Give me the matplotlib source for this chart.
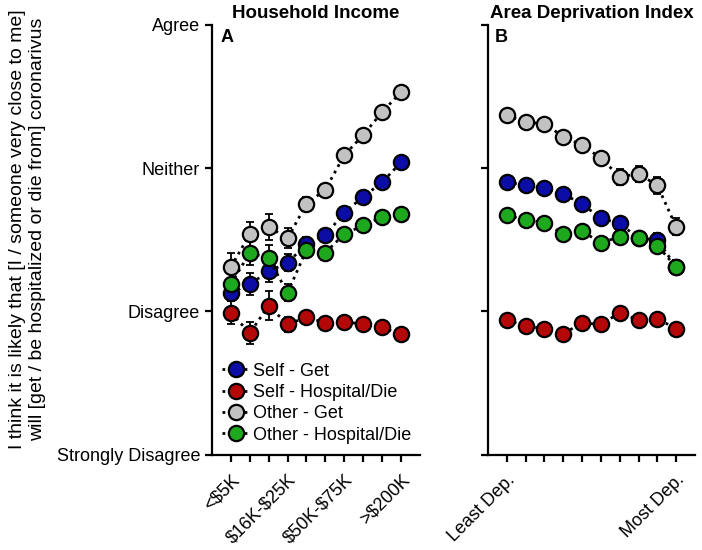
import matplotlib
matplotlib.use("Agg")
import matplotlib.pyplot as plt
from matplotlib.lines import Line2D

plt.rcParams["font.family"] = ["Liberation Sans", "DejaVu Sans"]
plt.rcParams["font.size"] = 13
plt.rcParams["text.parse_math"] = False

# Panel A: household income
income_cats = ["<$5K", "$5K-$10K", "$10K-$15K", "$16K-$25K", "$25K-$35K",
               "$35K-$50K", "$50K-$75K", "$75K-$100K", "$100K-$200K", ">$200K"]
income_shown = ["<$5K", "", "", "$16K-$25K", "", "", "$50K-$75K", "", "", ">$200K"]

inc_self_get = [2.13, 2.19, 2.28, 2.34, 2.47, 2.53, 2.69, 2.80, 2.90, 3.04]
inc_self_hosp = [1.99, 1.85, 2.04, 1.91, 1.96, 1.92, 1.93, 1.91, 1.89, 1.84]
inc_other_get = [2.31, 2.54, 2.59, 2.51, 2.75, 2.85, 3.09, 3.23, 3.39, 3.53]
inc_other_hosp = [2.19, 2.41, 2.37, 2.13, 2.43, 2.41, 2.54, 2.60, 2.66, 2.68]

inc_self_get_err = [0.06, 0.075, 0.075, 0.06, 0.05, 0.04, 0.04, 0.04, 0.04, 0.04]
inc_self_hosp_err = [0.08, 0.075, 0.1, 0.05, 0.04, 0.04, 0.04, 0.04, 0.04, 0.04]
inc_other_get_err = [0.1, 0.087, 0.09, 0.07, 0.05, 0.04, 0.04, 0.04, 0.04, 0.04]
inc_other_hosp_err = [0.07, 0.085, 0.094, 0.06, 0.05, 0.04, 0.04, 0.04, 0.04, 0.04]

# Panel B: area deprivation index deciles
adi_cats = list(range(1, 11))
adi_shown = ["Least Dep.", "", "", "", "", "", "", "", "", "Most Dep."]

adi_self_get = [2.90, 2.885, 2.86, 2.82, 2.75, 2.65, 2.615, 2.51, 2.50, 2.31]
adi_self_hosp = [1.94, 1.90, 1.88, 1.845, 1.92, 1.91, 1.99, 1.94, 1.95, 1.88]
adi_other_get = [3.37, 3.32, 3.31, 3.22, 3.16, 3.07, 2.94, 2.96, 2.88, 2.59]
adi_other_hosp = [2.67, 2.64, 2.62, 2.54, 2.56, 2.48, 2.52, 2.51, 2.46, 2.31]

adi_self_get_err = [0.03, 0.03, 0.03, 0.03, 0.03, 0.04, 0.04, 0.04, 0.05, 0.05]
adi_self_hosp_err = [0.03, 0.03, 0.03, 0.03, 0.03, 0.04, 0.04, 0.04, 0.04, 0.04]
adi_other_get_err = [0.03, 0.03, 0.03, 0.03, 0.03, 0.04, 0.055, 0.055, 0.06, 0.06]
adi_other_hosp_err = [0.03, 0.03, 0.03, 0.03, 0.03, 0.04, 0.04, 0.04, 0.05, 0.05]

series_labels = ["Self - Get", "Self - Hospital/Die", "Other - Get", "Other - Hospital/Die"]
colors = ["#0c0ca6", "#b40808", "#c2c2c2", "#1ea81e"]

y_ticks = [1, 2, 3, 4]
y_labels = ["Strongly Disagree", "Disagree", "Neither", "Agree"]


def draw(ax, series, errs):
    xs = list(range(1, 11))
    for vals, err, col in zip(series, errs, colors):
        ax.errorbar(xs, vals, yerr=err, fmt="none", ecolor="black",
                    elinewidth=1.3, capsize=3, capthick=1.3, zorder=2)
        ax.plot(xs, vals, linestyle=":", color="black", linewidth=2,
                marker="o", markersize=11, markerfacecolor=col,
                markeredgecolor="black", markeredgewidth=1.6, zorder=3)
    ax.set_xlim(0, 11)
    ax.set_ylim(1, 4)
    ax.set_xticks(xs)
    ax.set_yticks(y_ticks)
    for s in ["top", "right"]:
        ax.spines[s].set_visible(False)
    for s in ["left", "bottom"]:
        ax.spines[s].set_linewidth(1.6)
    ax.tick_params(direction="out", width=1.6, length=5)


fig = plt.figure(figsize=(7.02, 5.5), dpi=100)
ax_a = fig.add_axes([0.302, 0.173, 0.296, 0.782])
ax_b = fig.add_axes([0.695, 0.173, 0.295, 0.782])

draw(ax_a, [inc_self_get, inc_self_hosp, inc_other_get, inc_other_hosp],
     [inc_self_get_err, inc_self_hosp_err, inc_other_get_err, inc_other_hosp_err])
draw(ax_b, [adi_self_get, adi_self_hosp, adi_other_get, adi_other_hosp],
     [adi_self_get_err, adi_self_hosp_err, adi_other_get_err, adi_other_hosp_err])

ax_a.set_yticklabels(y_labels)
ax_b.set_yticklabels([])
ax_a.set_xticklabels(income_shown, rotation=45, ha="right", va="top",
                     rotation_mode="anchor")
ax_b.set_xticklabels(adi_shown, rotation=45, ha="right", va="top",
                     rotation_mode="anchor")
ax_a.tick_params(axis="x", pad=7)
ax_b.tick_params(axis="x", pad=7)

ax_a.set_title("Household Income", fontweight="bold", fontsize=13.5, pad=5)
ax_b.set_title("Area Deprivation Index", fontweight="bold", fontsize=13.5, pad=5)
ax_a.text(0.04, 0.99, "A", transform=ax_a.transAxes, fontweight="bold",
          fontsize=13, va="top", ha="left")
ax_b.text(0.035, 0.99, "B", transform=ax_b.transAxes, fontweight="bold",
          fontsize=13, va="top", ha="left")

fig.text(0.039, 0.583,
         "I think it is likely that [I / someone very close to me]\n"
         "will [get / be hospitalized or die from] coronarivus",
         rotation=90, ha="center", va="center", multialignment="center",
         fontsize=14, linespacing=1.28)

handles = [Line2D([0], [0], linestyle=":", color="black", linewidth=2,
                  marker="o", markersize=11, markerfacecolor=c,
                  markeredgecolor="black", markeredgewidth=1.6)
           for c in colors]
ax_a.legend(handles, series_labels, loc="lower left", bbox_to_anchor=(-0.03, -0.012),
            frameon=False, handlelength=1.5, handletextpad=0.2,
            labelspacing=0.24, fontsize=13)

fig.savefig("out.png", dpi=100)
